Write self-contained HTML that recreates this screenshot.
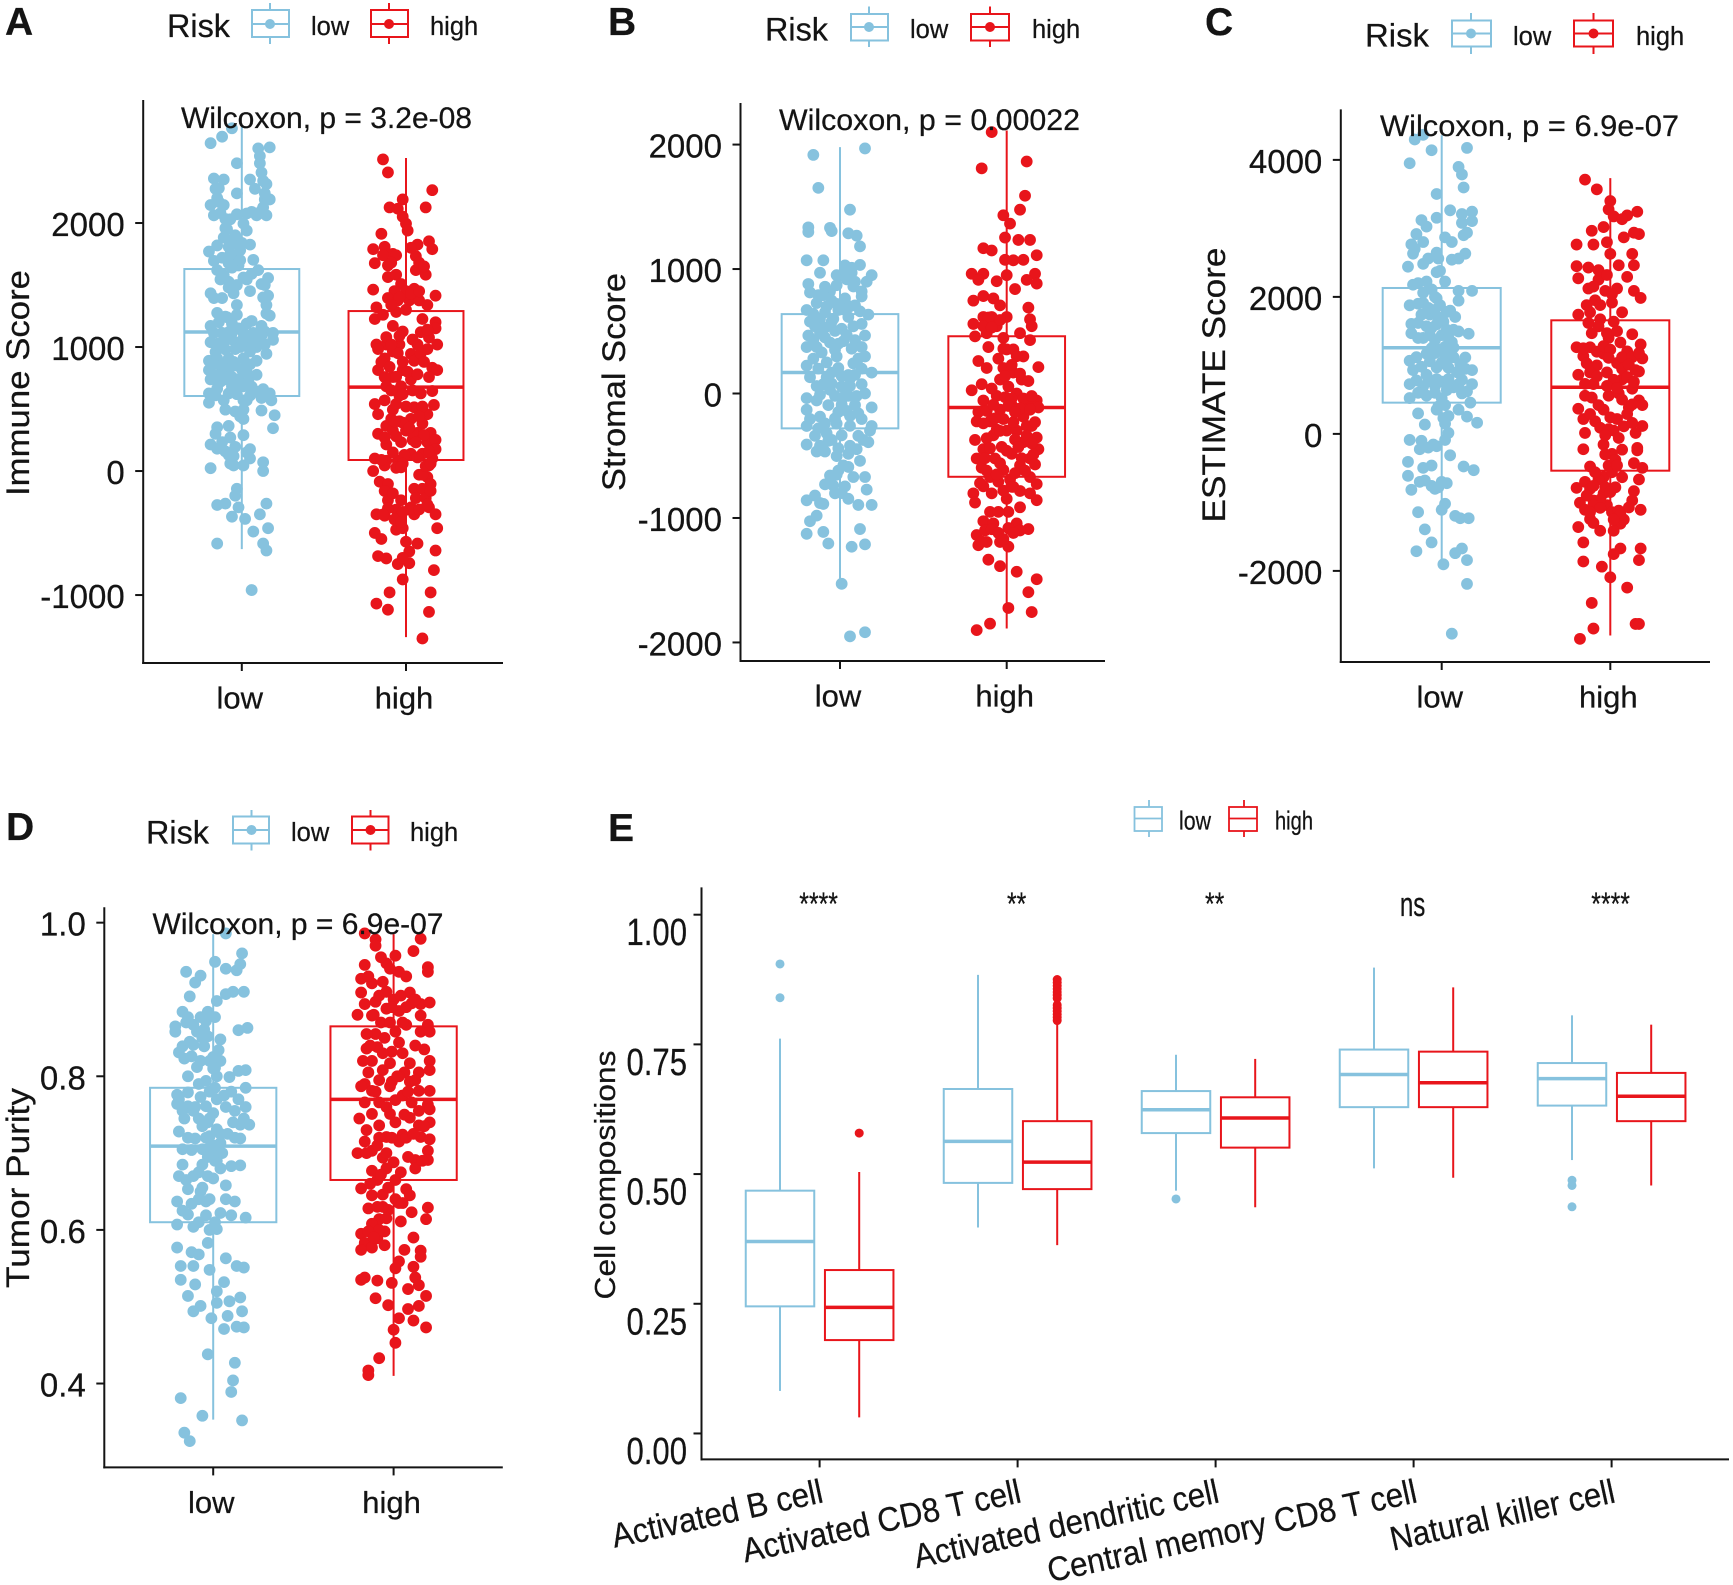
<!DOCTYPE html>
<html lang="en">
<head>
<meta charset="utf-8">
<title>Risk group boxplots</title>
<style>
html,body{margin:0;padding:0;background:#fff}
svg{display:block}
text{font-family:"Liberation Sans",sans-serif;fill:#141414;stroke:#141414;stroke-width:.25px}
</style>
</head>
<body>
<svg id="fig" xmlns="http://www.w3.org/2000/svg" width="1733" height="1585" viewBox="0 0 1733 1585">
<rect width="1733" height="1585" fill="#fff"/>

<!-- Panel letters -->
<text x="5" y="35" font-size="39" font-weight="bold">A</text>
<text x="608" y="35" font-size="39" font-weight="bold">B</text>
<text x="1205" y="35" font-size="39" font-weight="bold">C</text>
<text x="6" y="840" font-size="39" font-weight="bold">D</text>
<text x="608" y="841" font-size="39" font-weight="bold">E</text>

<!-- Legend A -->
<g>
<text x="167" y="37" font-size="32" textLength="63" lengthAdjust="spacingAndGlyphs">Risk</text>
<g fill="#fff" stroke="#86c2de" stroke-width="2"><line x1="270" y1="3" x2="270" y2="44"/><rect x="252" y="10" width="37" height="27"/><line x1="252" y1="24" x2="289" y2="24"/><circle cx="270" cy="24" r="5" fill="#86c2de" stroke="none"/></g>
<text x="311" y="35" font-size="25.5">low</text>
<g fill="#fff" stroke="#e8151b" stroke-width="2"><line x1="389" y1="3" x2="389" y2="44"/><rect x="371" y="10" width="37" height="27"/><line x1="371" y1="24" x2="408" y2="24"/><circle cx="389" cy="24" r="5" fill="#e8151b" stroke="none"/></g>
<text x="430" y="35" font-size="25.5">high</text>
</g>
<!-- Legend B -->
<g>
<text x="765" y="40.5" font-size="32" textLength="63" lengthAdjust="spacingAndGlyphs">Risk</text>
<g fill="#fff" stroke="#86c2de" stroke-width="2"><line x1="869" y1="6.5" x2="869" y2="47"/><rect x="851" y="14" width="37" height="26.5"/><line x1="851" y1="27" x2="888" y2="27"/><circle cx="869" cy="27" r="5" fill="#86c2de" stroke="none"/></g>
<text x="910" y="38" font-size="25.5">low</text>
<g fill="#fff" stroke="#e8151b" stroke-width="2"><line x1="990" y1="6.5" x2="990" y2="47"/><rect x="971" y="14" width="38" height="26.5"/><line x1="971" y1="27" x2="1009" y2="27"/><circle cx="990" cy="27" r="5" fill="#e8151b" stroke="none"/></g>
<text x="1032" y="38" font-size="25.5">high</text>
</g>
<!-- Legend C -->
<g>
<text x="1365" y="46.5" font-size="32" textLength="64" lengthAdjust="spacingAndGlyphs">Risk</text>
<g fill="#fff" stroke="#86c2de" stroke-width="2"><line x1="1471" y1="13" x2="1471" y2="54"/><rect x="1452" y="20.5" width="39" height="26"/><line x1="1452" y1="33.5" x2="1491" y2="33.5"/><circle cx="1471" cy="33.5" r="5" fill="#86c2de" stroke="none"/></g>
<text x="1513" y="45" font-size="25.5">low</text>
<g fill="#fff" stroke="#e8151b" stroke-width="2"><line x1="1593.5" y1="13" x2="1593.5" y2="54"/><rect x="1574" y="20.5" width="39" height="26"/><line x1="1574" y1="33.5" x2="1613" y2="33.5"/><circle cx="1593.5" cy="33.5" r="5" fill="#e8151b" stroke="none"/></g>
<text x="1636" y="45" font-size="25.5">high</text>
</g>
<!-- Legend D -->
<g>
<text x="146" y="843.5" font-size="32" textLength="63" lengthAdjust="spacingAndGlyphs">Risk</text>
<g fill="#fff" stroke="#86c2de" stroke-width="2"><line x1="251.5" y1="810" x2="251.5" y2="850.5"/><rect x="233" y="816.5" width="36" height="27"/><line x1="233" y1="830" x2="269" y2="830"/><circle cx="251.5" cy="830" r="5" fill="#86c2de" stroke="none"/></g>
<text x="291" y="841" font-size="25.5">low</text>
<g fill="#fff" stroke="#e8151b" stroke-width="2"><line x1="370.5" y1="810" x2="370.5" y2="850.5"/><rect x="352" y="816.5" width="36.5" height="27"/><line x1="352" y1="830" x2="388.5" y2="830"/><circle cx="370.5" cy="830" r="5" fill="#e8151b" stroke="none"/></g>
<text x="410" y="841" font-size="25.5">high</text>
</g>
<!-- Legend E -->
<g>
<g fill="#fff" stroke="#86c2de" stroke-width="1.8"><line x1="1149" y1="800" x2="1149" y2="837"/><rect x="1134.5" y="807" width="27.5" height="24"/><line x1="1134.5" y1="818.5" x2="1162" y2="818.5"/></g>
<text x="1179" y="829.5" font-size="26" textLength="32" lengthAdjust="spacingAndGlyphs">low</text>
<g fill="#fff" stroke="#e8151b" stroke-width="1.8"><line x1="1244" y1="800" x2="1244" y2="837"/><rect x="1229" y="807" width="28" height="24"/><line x1="1229" y1="818.5" x2="1257" y2="818.5"/></g>
<text x="1275" y="829.5" font-size="26" textLength="38" lengthAdjust="spacingAndGlyphs">high</text>
</g>

<!-- Axis titles -->
<text transform="translate(29,383) rotate(-90)" text-anchor="middle" font-size="32" textLength="226" lengthAdjust="spacingAndGlyphs">Immune Score</text>
<text transform="translate(625,382) rotate(-90)" text-anchor="middle" font-size="32" textLength="218" lengthAdjust="spacingAndGlyphs">Stromal Score</text>
<text transform="translate(1225,385) rotate(-90)" text-anchor="middle" font-size="32" textLength="275" lengthAdjust="spacingAndGlyphs">ESTIMATE Score</text>
<text transform="translate(29,1188) rotate(-90)" text-anchor="middle" font-size="32" textLength="200" lengthAdjust="spacingAndGlyphs">Tumor Purity</text>
<text transform="translate(615,1175) rotate(-90)" text-anchor="middle" font-size="29" textLength="249" lengthAdjust="spacingAndGlyphs">Cell compositions</text>

<g id="plots"></g>

<!-- Wilcoxon annotations -->
<text x="181" y="128" font-size="30" textLength="291" lengthAdjust="spacingAndGlyphs">Wilcoxon, p = 3.2e-08</text>
<text x="779" y="130" font-size="30" textLength="301" lengthAdjust="spacingAndGlyphs">Wilcoxon, p = 0.00022</text>
<text x="1380" y="136" font-size="30" textLength="299" lengthAdjust="spacingAndGlyphs">Wilcoxon, p = 6.9e-07</text>
<text x="152.5" y="934" font-size="30" textLength="291" lengthAdjust="spacingAndGlyphs">Wilcoxon, p = 6.9e-07</text>
</svg>

<script>
const riskGroups = ['low', 'high'];
const colors = { low: '#86c2de', high: '#e8151b' };

/* Each box: [whiskerLow, q1, median, q3, whiskerHigh]. Each point: [jitter in 1/100 category, value]. */
const immuneTicks = ['-1000', '0', '1000', '2000'];
const immuneDomain = [-1548, 2992];
const immuneBoxes = [[-630, 605, 1121, 1629, 2785], [-1339, 89, 677, 1290, 2524]];
const immuneLow = [[-6,2764],[-12,2696],[-19,2644],[10,2602],[17,2610],[-3,2482],[11,2482],[12,2407],[-17,2359],[-11,2351],[5,2351],[15,2314],[-16,2276],[8,2276],[-3,2239],[-15,2201],[14,2190],[17,2190],[-19,2145],[-11,2145],[13,2126],[-17,2062],[-10,2032],[-3,2070],[3,2077],[9,2062],[15,2062],[-10,1958],[1,1995],[3,1939],[-11,1883],[-4,1901],[-15,1819],[-8,1808],[-3,1826],[5,1826],[-20,1770],[-4,1733],[-17,1695],[-8,1676],[7,1703],[-15,1620],[-2,1658],[10,1620],[16,1556],[-13,1545],[-8,1526],[3,1545],[12,1508],[-19,1433],[-5,1433],[5,1451],[16,1414],[-17,1395],[-12,1395],[-3,1339],[15,1339],[17,1253],[-15,1275],[-10,1245],[-19,1170],[-6,1189],[3,1189],[12,1170],[-17,1114],[-12,1114],[-6,1114],[1,1114],[7,1114],[14,1125],[19,1114],[-19,1039],[-11,1039],[-4,1039],[4,1039],[19,1058],[-4,983],[5,964],[15,945],[-20,889],[-15,908],[-8,908],[1,908],[9,889],[-20,814],[-12,814],[-4,851],[3,795],[9,776],[-19,739],[-10,739],[-6,758],[-15,664],[-6,683],[1,683],[-20,626],[-8,626],[5,608],[17,626],[-20,551],[-11,570],[3,570],[12,589],[18,570],[-10,495],[1,495],[12,488],[20,450],[1,420],[-8,364],[-15,353],[19,345],[1,289],[-19,214],[-12,233],[-4,195],[5,176],[-10,158],[-5,120],[5,101],[13,71],[-5,45],[1,45],[-19,23],[13,0],[-3,-143],[-4,-199],[15,-263],[-10,-263],[-15,-274],[-2,-293],[-6,-368],[2,-386],[11,-349],[16,-461],[7,-488],[-15,-585],[13,-585],[15,-641],[6,-960],[-14,1030],[-8,1120],[-2,1150],[4,1090],[10,1060],[14,1020],[-16,960],[-10,980],[-1,1000],[9,1000],[-12,860],[-5,880],[5,860],[-16,770],[-8,820],[0,820],[-13,720],[-2,740],[6,680],[9,640],[-16,610],[-3,620],[1,570],[13,660],[-14,1200],[-9,1240],[-3,1260],[6,1210],[-8,1480],[-3,1500],[1,1560],[6,1590],[-11,1580],[-6,1640],[-1,1700],[-12,1720],[-7,1750],[-1,1780],[-7,1860],[0,1840],[-9,1950],[-13,2080],[-7,2030],[6,2090],[12,2100],[-14,2280],[-14,2170],[14,2240],[13,2340],[11,2540],[-4,480],[-1,440],[-15,180],[-8,130],[-7,60],[-16,300],[-7,270],[3,150],[14,1500],[15,1270],[13,1400],[-13,1000],[7,1040],[12,1090],[-9,1060],[1,1070],[-17,860],[-11,760],[4,720],[-5,660]];
const immuneHigh = [[-14,2513],[-11,2408],[16,2265],[-2,2190],[-10,2126],[-5,2115],[12,2126],[-2,2051],[0,1995],[1,1939],[-15,1913],[-13,1808],[-20,1789],[-8,1751],[7,1826],[14,1853],[16,1789],[-19,1676],[-11,1658],[-6,1740],[6,1733],[6,1620],[12,1583],[-11,1564],[-6,1583],[-3,1508],[-20,1463],[-7,1451],[0,1451],[5,1470],[18,1414],[-11,1395],[-5,1376],[2,1376],[8,1376],[13,1339],[-18,1320],[-6,1283],[-19,1226],[10,1226],[18,1200],[-8,1170],[-2,1125],[18,1151],[14,1076],[-18,1020],[-12,1020],[-4,1020],[7,1020],[19,1020],[-17,983],[-8,964],[3,945],[13,983],[-13,908],[5,889],[-17,814],[-2,814],[-8,758],[16,833],[19,814],[-13,758],[3,739],[14,758],[-12,683],[-3,683],[16,645],[9,626],[-19,540],[-13,570],[-4,608],[17,533],[-17,458],[-8,495],[5,514],[13,458],[-12,364],[-4,401],[3,420],[10,383],[-17,300],[-8,326],[0,326],[7,308],[15,308],[-12,214],[-3,233],[4,251],[13,233],[18,251],[18,176],[-19,101],[-12,83],[-5,83],[3,139],[10,139],[16,101],[-20,0],[-13,45],[-6,26],[14,45],[-16,-86],[-11,-105],[13,-49],[15,-105],[-13,-161],[5,-143],[10,-143],[-11,-236],[-3,-236],[6,-218],[12,-218],[-6,-311],[3,-293],[14,-293],[-18,-349],[-13,-360],[-4,-368],[5,-349],[18,-349],[-6,-473],[-2,-461],[19,-461],[-19,-499],[-15,-548],[7,-585],[2,-649],[18,-641],[-17,-686],[-12,-705],[2,-743],[-5,-750],[17,-799],[-2,-874],[-10,-979],[15,-979],[-18,-1069],[-11,-1118],[14,-1136],[10,-1350],[-4,1400],[3,1430],[8,1450],[-9,1340],[0,1300],[-14,1260],[9,1120],[13,1140],[-4,1090],[-12,1080],[4,1060],[-5,950],[9,950],[-2,880],[1,800],[-6,760],[7,780],[-9,650],[-2,620],[4,650],[-6,540],[0,520],[10,520],[-9,420],[8,440],[-2,390],[-13,270],[-6,280],[4,310],[11,290],[-8,150],[-1,130],[7,110],[-15,90],[-2,60],[-3,30],[8,-30],[-8,-180],[2,-310],[-2,-330],[8,-310],[-11,-300],[-7,-390],[-3,-410],[-14,-350],[-2,-700],[0,-570],[13,-270],[15,-160],[10,-30],[12,40],[14,160],[-14,1740],[-9,1680],[8,1680],[11,1650],[3,1800],[-15,880],[-10,840],[11,880],[-7,400],[2,350],[6,230],[15,60],[-9,1020]];

const stromalTicks = ['-2000', '-1000', '0', '1000', '2000'];
const stromalDomain = [-2149, 2334];
const stromalBoxes = [[-1534, -280, 169, 638, 1979], [-1888, -669, -112, 460, 2113]];
const stromalLow = [[-16,1917],[15,1969],[-13,1652],[6,1477],[-19,1335],[-19,1298],[-6,1331],[-5,1305],[5,1287],[10,1268],[12,1182],[-20,1070],[-10,1070],[3,1029],[12,1033],[-12,970],[-2,951],[7,970],[19,951],[-19,880],[4,917],[9,898],[16,898],[-18,812],[-9,858],[13,820],[-14,727],[-5,746],[3,764],[9,708],[-20,671],[-9,652],[-1,671],[17,634],[-18,578],[-5,578],[5,615],[13,559],[-19,466],[-12,485],[-3,503],[15,466],[-20,373],[-14,373],[-6,410],[9,429],[13,373],[-16,280],[-2,298],[11,280],[15,298],[-20,224],[-1,205],[8,242],[-18,131],[-5,168],[5,149],[19,168],[-10,75],[1,56],[13,75],[-20,-37],[-14,-56],[-3,-19],[5,-19],[15,0],[-20,-131],[-7,-93],[9,-93],[19,-112],[-18,-205],[-12,-186],[-1,-149],[13,-205],[-20,-261],[-13,-280],[-2,-242],[19,-261],[-5,-373],[1,-336],[14,-373],[18,-298],[-20,-410],[-14,-466],[-9,-466],[17,-391],[10,-447],[-2,-503],[5,-485],[2,-578],[12,-541],[-6,-659],[-2,-652],[8,-671],[15,-671],[3,-746],[16,-772],[-3,-802],[-15,-820],[-20,-858],[-10,-887],[5,-846],[11,-895],[19,-895],[-14,-981],[-18,-1026],[-20,-1127],[-10,-1112],[12,-1089],[-7,-1205],[15,-1212],[7,-1231],[1,-1529],[6,-1951],[15,-1918],[-4,600],[2,420],[-8,250],[6,120],[-6,30],[2,-30],[6,-180],[-3,350],[3,680],[-8,-320],[-16,640],[-12,600],[-8,700],[-2,720],[6,700],[12,660],[-15,540],[-9,530],[1,520],[8,540],[-16,430],[-9,450],[4,470],[7,360],[-11,330],[-1,400],[-13,200],[-8,130],[1,140],[9,150],[13,200],[-14,60],[-5,80],[6,60],[10,-20],[-12,-10],[1,-90],[4,-140],[-3,-200],[6,-260],[11,-160],[-9,-240],[-15,-340],[-7,-380],[6,-420],[11,-340],[-12,-420],[-1,-440],[-1,-620],[5,-590],[-4,-740],[-9,-730],[-12,-880],[1,-800],[-13,790],[-6,820],[8,860],[13,780],[-2,870],[-10,790],[3,990],[7,1010]];
const stromalHigh = [[-9,2100],[12,1864],[-15,1809],[11,1589],[8,1477],[-2,1432],[2,1365],[-1,1253],[7,1234],[14,1234],[-14,1167],[-9,1149],[18,1111],[-1,1074],[10,1074],[4,1070],[-21,962],[-14,962],[-17,913],[17,962],[0,951],[-6,902],[12,913],[18,883],[5,839],[-20,746],[-14,783],[-8,764],[-4,708],[13,690],[-14,615],[-9,615],[0,615],[14,596],[-20,559],[-6,541],[15,541],[-12,485],[8,485],[-19,459],[14,429],[-2,447],[-11,373],[0,354],[4,354],[-17,261],[-5,280],[10,298],[19,212],[-12,205],[-2,205],[4,168],[-4,112],[9,112],[-21,26],[-15,75],[1,56],[-6,-19],[6,0],[18,-56],[-14,-56],[12,-75],[-17,-149],[-4,-130],[3,-93],[19,-112],[-18,-224],[-10,-224],[-2,-205],[10,-186],[15,-261],[-19,-373],[-8,-336],[0,-298],[6,-298],[18,-354],[-14,-447],[-3,-429],[10,-391],[19,-447],[-18,-522],[-7,-522],[3,-485],[14,-522],[-15,-596],[-2,-615],[8,-578],[-10,-671],[2,-690],[14,-671],[-14,-746],[-5,-709],[18,-727],[-20,-802],[-9,-802],[8,-783],[14,-802],[-19,-876],[0,-846],[18,-857],[8,-914],[1,-951],[-10,-951],[-5,-951],[-14,-1026],[-8,-1044],[6,-1044],[1,-1081],[13,-1089],[-18,-1137],[-4,-1193],[-12,-1193],[-17,-1219],[1,-1230],[-11,-1335],[-4,-1387],[6,-1432],[18,-1492],[13,-1596],[1,-1723],[15,-1756],[-10,-1849],[-18,-1901],[-11,610],[-4,590],[-14,540],[-9,530],[-2,360],[6,300],[3,230],[-1,140],[8,160],[13,100],[-9,40],[-1,-30],[3,-40],[10,-40],[15,-20],[-12,-140],[-8,-90],[8,-120],[14,-130],[-14,-240],[-6,-290],[4,-230],[12,-260],[17,-230],[-12,-360],[5,-370],[12,-340],[15,-400],[-10,-440],[0,-460],[7,-430],[16,-490],[-13,-520],[-4,-560],[9,-520],[17,-570],[-12,-620],[-6,-650],[5,-640],[11,-620],[-16,-720],[-2,-780],[4,-750],[-13,-1100],[-9,-1090],[-5,-1120],[8,-1100],[4,-1120],[-15,-1190],[-2,-1170],[3,-750],[-4,-300],[-7,-200],[1,-100],[5,-150]];

const estimateTicks = ['-2000', '0', '2000', '4000'];
const estimateDomain = [-3330, 4737];
const estimateBoxes = [[-1923, 456, 1257, 2130, 4360], [-2943, -537, 680, 1658, 3733]];
const estimateLow = [[-16,4298],[-11,4366],[-6,4141],[15,4175],[-19,3951],[10,3897],[12,3787],[13,3597],[-3,3502],[5,3264],[18,3244],[-3,3155],[-12,3121],[12,3209],[12,3080],[-9,3026],[-15,2917],[18,3107],[15,2937],[2,2869],[-18,2767],[-11,2801],[6,2801],[-3,2645],[-17,2631],[14,2631],[6,2543],[-11,2482],[-20,2441],[-3,2360],[-17,2177],[-9,2224],[2,2224],[10,2088],[18,2088],[-19,1877],[-11,1911],[-3,1979],[10,1945],[-7,1741],[8,1707],[-18,1605],[-9,1571],[1,1639],[-18,1469],[-11,1401],[0,1442],[10,1496],[16,1462],[-5,1272],[2,1272],[6,1340],[-19,1067],[-9,1170],[2,1102],[14,1115],[-17,932],[-9,863],[4,966],[18,931],[-19,727],[-11,694],[0,762],[10,727],[18,727],[-19,523],[-9,558],[12,591],[2,421],[17,456],[-14,299],[-3,354],[10,354],[15,252],[21,163],[-10,136],[2,150],[4,14],[-19,-88],[2,-88],[-13,-224],[-5,-156],[5,-313],[-20,-408],[-11,-496],[-6,-462],[13,-476],[19,-530],[-20,-612],[-13,-700],[0,-700],[-18,-816],[-4,-802],[2,-1020],[0,-1108],[-14,-1143],[8,-1197],[16,-1231],[11,-1231],[-10,-1394],[-6,-1584],[-15,-1713],[8,-1741],[12,-1673],[15,-1843],[1,-1904],[15,-2190],[6,-2917],[-4,2000],[-2,1700],[-6,1550],[3,1000],[-3,800],[-6,1250],[5,1800],[-14,1900],[-8,1840],[-1,1880],[-12,1740],[-4,1810],[3,1780],[-14,1620],[-3,1600],[3,1520],[7,1520],[-14,1400],[-7,1440],[-4,1370],[4,1400],[-4,1180],[-1,1230],[4,1200],[7,1260],[-15,1120],[-7,1060],[0,1040],[7,1120],[11,1020],[14,950],[-12,980],[-3,970],[9,900],[-15,780],[-8,770],[-4,700],[4,800],[7,680],[12,790],[-14,600],[-4,600],[3,640],[15,620],[0,520],[-2,400],[1,230],[4,260],[-12,-100],[-8,-200],[-3,-180],[-10,-680],[-6,-760],[-2,-780],[3,-720],[-2,2560],[10,2560],[13,2900],[-16,2700],[-8,2560],[-1,2380],[-14,2200],[-6,2110],[-11,2060]];
const estimateHigh = [[-15,3712],[-8,3570],[0,3400],[-1,3277],[2,3175],[16,3243],[10,3189],[-11,2965],[-4,3019],[17,2917],[7,3134],[-20,2764],[-10,2764],[-2,2798],[8,2869],[14,2937],[0,2628],[13,2628],[-20,2448],[-13,2428],[5,2462],[14,2462],[-19,2271],[-7,2251],[10,2292],[-13,2122],[-3,2088],[4,2122],[14,2088],[18,1985],[-9,1951],[1,1917],[-19,1741],[-12,1775],[7,1775],[-6,1673],[2,1639],[-11,1469],[-1,1401],[13,1455],[-20,1265],[-12,1265],[6,1334],[18,1306],[-16,1136],[-4,1170],[10,1204],[19,1102],[-8,999],[4,1034],[-19,863],[-12,897],[-2,897],[17,911],[7,795],[-10,727],[13,659],[-15,557],[-1,557],[5,591],[17,489],[-19,367],[-4,354],[11,387],[19,421],[-16,217],[-9,184],[4,217],[19,115],[-15,14],[2,48],[15,14],[-16,-224],[-4,-156],[16,-204],[1,-292],[-12,-476],[-1,-462],[14,-428],[19,-496],[-4,-632],[7,-632],[-15,-700],[-7,-666],[17,-666],[-20,-788],[-12,-802],[14,-836],[-4,-870],[-18,-1006],[-10,-972],[13,-972],[-2,-1040],[-15,-1108],[11,-1074],[18,-1108],[1,-1142],[-12,-1244],[4,-1244],[-19,-1360],[-6,-1414],[6,-1312],[2,-1414],[-16,-1584],[18,-1673],[6,-1673],[2,-1755],[-16,-1863],[17,-1843],[-5,-1938],[0,-2094],[10,-2244],[-11,-2468],[15,-2774],[17,-2774],[-10,-2842],[-18,-2992],[-14,1880],[-6,1880],[1,2040],[-10,2150],[-2,1470],[4,1500],[-7,1570],[-13,1620],[-16,1250],[-8,1200],[-4,1280],[0,1230],[7,1120],[13,1120],[17,1180],[-14,1030],[-1,1110],[7,950],[11,1010],[15,930],[-8,840],[2,790],[10,830],[-15,730],[-2,700],[4,670],[14,760],[-11,530],[-7,420],[7,500],[13,430],[-12,290],[0,240],[10,290],[-6,90],[-1,70],[8,110],[13,160],[-3,-20],[5,-60],[-3,-300],[3,-380],[7,-230],[-9,-560],[1,-560],[4,-460],[-10,-760],[-3,-780],[3,-780],[-14,-900],[-6,-960],[0,-850],[-10,-1040],[-6,-1080],[5,-1120],[8,-1250],[6,-1180],[2,-1250],[-10,-1300],[-12,-1140],[16,-240],[-7,2390],[-2,2320]];

const purityTicks = ['0.4', '0.6', '0.8', '1.0'];
const purityDomain = [0.2908, 1.02];
const purityBoxes = [[0.353, 0.61, 0.709, 0.785, 0.985], [0.41, 0.665, 0.77, 0.865, 0.985]];
const purityLow = [[7,0.986],[16,0.96],[1,0.949],[15,0.946],[7,0.94],[13,0.938],[-15,0.936],[-7,0.931],[-10,0.922],[17,0.91],[11,0.91],[7,0.907],[-13,0.904],[2,0.898],[-17,0.884],[-3,0.884],[1,0.877],[-21,0.865],[-14,0.877],[-7,0.877],[-4,0.872],[14,0.86],[19,0.863],[-21,0.858],[-11,0.867],[-5,0.861],[-3,0.852],[4,0.848],[-11,0.841],[-17,0.839],[-5,0.839],[-19,0.831],[3,0.834],[4,0.82],[-9,0.812],[1,0.811],[18,0.808],[14,0.807],[-14,0.8],[9,0.799],[-4,0.794],[1,0.785],[18,0.785],[-20,0.776],[-14,0.779],[-7,0.773],[14,0.77],[-20,0.764],[-14,0.761],[-4,0.761],[7,0.76],[18,0.76],[-17,0.755],[0,0.752],[12,0.755],[-3,0.74],[2,0.731],[15,0.737],[20,0.737],[-19,0.728],[-10,0.719],[-2,0.722],[4,0.725],[15,0.719],[-12,0.704],[-2,0.707],[4,0.713],[-6,0.685],[-17,0.685],[1,0.695],[15,0.684],[10,0.683],[-19,0.67],[-11,0.67],[0,0.667],[-14,0.653],[-6,0.655],[7,0.658],[-20,0.637],[-12,0.634],[-4,0.637],[12,0.637],[4,0.622],[-4,0.619],[10,0.619],[18,0.616],[-20,0.607],[-11,0.604],[2,0.601],[-3,0.583],[-20,0.577],[-12,0.571],[-8,0.568],[7,0.563],[13,0.553],[17,0.551],[-18,0.553],[-11,0.553],[-2,0.548],[-18,0.535],[6,0.532],[-10,0.529],[2,0.52],[-14,0.514],[15,0.512],[2,0.505],[9,0.507],[-7,0.501],[-11,0.494],[16,0.494],[8,0.488],[-1,0.485],[13,0.474],[6,0.471],[17,0.473],[-3,0.438],[12,0.427],[11,0.404],[10,0.389],[-18,0.381],[-6,0.358],[16,0.352],[-16,0.336],[-13,0.325],[-4,0.72],[3,0.7],[-2,0.745],[1,0.69],[-7,0.65],[-2,0.64],[-15,0.87],[-9,0.858],[-13,0.845],[-2,0.82],[-16,0.823],[-12,0.826],[-7,0.82],[-19,0.77],[-16,0.745],[-11,0.755],[-8,0.745],[-6,0.735],[-6,0.705],[-3,0.695],[0,0.71],[2,0.69],[5,0.7],[8,0.725],[12,0.72],[11,0.74],[17,0.745],[-14,0.72],[-17,0.705],[-8,0.675],[-3,0.67],[4,0.68],[-15,0.665],[-8,0.64],[-17,0.625],[-14,0.62],[-8,0.61],[-2,0.6],[1,0.61],[7,0.64],[-10,0.76],[-8,0.79],[6,0.775],[10,0.78],[-2,0.78],[2,0.77],[0,0.825],[0,0.81],[-6,0.85],[2,0.8]];
const purityHigh = [[-16,0.986],[-10,0.978],[15,0.979],[-10,0.97],[1,0.957],[11,0.963],[-16,0.945],[-4,0.947],[19,0.942],[19,0.936],[3,0.936],[-18,0.927],[-12,0.921],[-6,0.923],[7,0.93],[-18,0.909],[9,0.909],[0,0.9],[-16,0.894],[-10,0.897],[15,0.894],[20,0.896],[-4,0.888],[-20,0.88],[-12,0.879],[3,0.885],[15,0.879],[-7,0.87],[-2,0.87],[7,0.867],[19,0.867],[-10,0.855],[1,0.858],[15,0.858],[20,0.858],[3,0.844],[-15,0.836],[-9,0.838],[17,0.835],[-1,0.832],[-12,0.82],[-2,0.817],[9,0.817],[20,0.82],[-14,0.805],[-6,0.808],[6,0.805],[14,0.805],[20,0.808],[-16,0.79],[-1,0.793],[9,0.793],[-18,0.787],[-2,0.787],[14,0.781],[20,0.781],[-12,0.781],[-16,0.766],[-8,0.766],[1,0.769],[10,0.766],[19,0.763],[-19,0.745],[-12,0.751],[-2,0.751],[9,0.746],[20,0.757],[-8,0.736],[1,0.74],[14,0.736],[20,0.74],[-16,0.715],[-4,0.721],[5,0.724],[15,0.721],[20,0.718],[-20,0.7],[-12,0.703],[3,0.715],[19,0.703],[-6,0.694],[0,0.688],[12,0.691],[12,0.68],[19,0.691],[-12,0.677],[-4,0.68],[-9,0.665],[1,0.665],[7,0.653],[-18,0.654],[-12,0.645],[-6,0.646],[9,0.645],[3,0.635],[19,0.629],[10,0.623],[-3,0.626],[-8,0.614],[18,0.614],[4,0.611],[-12,0.608],[-18,0.595],[-5,0.598],[-16,0.583],[-9,0.589],[11,0.59],[-18,0.574],[-12,0.577],[6,0.574],[15,0.573],[15,0.565],[3,0.559],[1,0.55],[11,0.552],[12,0.538],[-18,0.535],[-16,0.538],[-9,0.534],[-1,0.531],[14,0.528],[8,0.523],[18,0.514],[-10,0.511],[-3,0.502],[14,0.501],[8,0.497],[3,0.485],[11,0.482],[0,0.47],[18,0.473],[1,0.453],[-8,0.433],[-14,0.417],[-14,0.411],[-14,0.93],[-8,0.905],[-4,0.91],[4,0.905],[10,0.895],[-11,0.88],[-1,0.89],[5,0.87],[-15,0.855],[-5,0.85],[-13,0.84],[-6,0.83],[5,0.83],[12,0.84],[-17,0.82],[3,0.8],[12,0.795],[-8,0.795],[-10,0.78],[5,0.775],[8,0.78],[-4,0.76],[6,0.75],[14,0.755],[-15,0.73],[-8,0.72],[-1,0.72],[7,0.72],[11,0.725],[17,0.735],[-15,0.7],[-9,0.71],[-4,0.7],[8,0.695],[16,0.69],[-7,0.672],[4,0.675],[-13,0.66],[-3,0.655],[-14,0.628],[-8,0.6],[-6,0.63],[-9,0.63],[1,0.64],[5,0.635],[-14,0.598],[-4,0.615],[-11,0.59],[-5,0.58],[2,0.8],[7,0.89],[12,0.9],[-2,0.94],[-7,0.955]];

const cellCategories = ['Activated B cell', 'Activated CD8 T cell', 'Activated dendritic cell', 'Central memory CD8 T cell', 'Natural killer cell'];
const cellTicks = ['0.00', '0.25', '0.50', '0.75', '1.00'];
const cellDomain = [-0.05, 1.0526];
const significance = ['****', '**', '**', 'ns', '****'];
const cellLowBoxes = [[0.082,0.245,0.370,0.468,0.761],[0.397,0.483,0.563,0.664,0.884],[0.468,0.579,0.624,0.66,0.73],[0.511,0.629,0.692,0.74,0.898],[0.527,0.632,0.684,0.714,0.806]];
const cellHighBoxes = [[0.031,0.18,0.243,0.315,0.504],[0.363,0.471,0.523,0.602,0.796],[0.436,0.551,0.608,0.648,0.722],[0.493,0.629,0.676,0.736,0.86],[0.478,0.602,0.65,0.695,0.788]];
const cellLowOutliers = [[0.905,0.84],[],[0.452],[],[0.488,0.478,0.437]];
const cellHighOutliers = [[0.579],[0.875,0.869,0.863,0.857,0.851,0.845,0.839,0.826,0.82,0.814,0.808,0.802,0.796],[],[],[]];

const NS = 'http://www.w3.org/2000/svg';
const plots = document.getElementById('plots');
const INK = '#141414';

function mk(tag, attrs, parent) {
  const el = document.createElementNS(NS, tag);
  for (const k in attrs) el.setAttribute(k, attrs[k]);
  parent.appendChild(el);
  return el;
}
function linearScale(domain, range) {
  return v => range[0] + (v - domain[0]) * (range[1] - range[0]) / (domain[1] - domain[0]);
}

function drawAxes(g, frame, yScale, yTicks, tickXCenters, tickLabels, opts) {
  const yAxis = mk('line', { x1: frame.left, x2: frame.left, y1: frame.top, y2: frame.bottom + 1, stroke: INK, 'stroke-width': 2 }, g);
  
  
  const xAxis = mk('line', { x1: frame.left - 1, x2: frame.right, y1: frame.bottom, y2: frame.bottom, stroke: INK, 'stroke-width': 2 }, g);
  
  
  yTicks.forEach(label => {
    const y = yScale(Number(label));
    const tick = mk('line', { x1: frame.left - 8, x2: frame.left, y1: y, y2: y, stroke: INK, 'stroke-width': 2 }, g);
    
    
    const attrs = { x: frame.left - opts.yLabelGap, y: y + opts.yLabelDrop, 'text-anchor': 'end', 'font-size': opts.yFont };
    if (opts.yLabelWidth) { attrs.textLength = opts.yLabelWidth; attrs.lengthAdjust = 'spacingAndGlyphs'; }
    const t = mk('text', attrs, g);
    t.textContent = label;
    
    
  });
  tickXCenters.forEach((x, i) => {
    const tick = mk('line', { x1: x, x2: x, y1: frame.bottom, y2: frame.bottom + 8, stroke: INK, 'stroke-width': 2 }, g);
    
    
    if (tickLabels) {
      const t = mk('text', { x: x - 2, y: frame.bottom + 45.5, 'text-anchor': 'middle', 'font-size': 31 }, g);
      t.textContent = tickLabels[i];
      
      
    }
  });
}

function drawBox(g, cx, halfW, stats, color, yScale, name, medW) {
  const [lo, q1, med, q3, hi] = stats;
  const sw = 2;
  const upper = mk('line', { x1: cx, x2: cx, y1: yScale(q3), y2: yScale(hi), stroke: color, 'stroke-width': sw }, g);
  
  
  const lower = mk('line', { x1: cx, x2: cx, y1: yScale(q1), y2: yScale(lo), stroke: color, 'stroke-width': sw }, g);
  
  
  const box = mk('rect', { x: cx - halfW, y: yScale(q3), width: 2 * halfW, height: yScale(q1) - yScale(q3), fill: 'none', stroke: color, 'stroke-width': sw }, g);
  
  
  const m = mk('line', { x1: cx - halfW, x2: cx + halfW, y1: yScale(med), y2: yScale(med), stroke: color, 'stroke-width': medW }, g);
  
  
}

function drawScorePanel(id, frame, domain, ticks, boxes, lowPts, highPts, catX0, catStep) {
  const g = mk('g', {}, plots);
  
  
  const yScale = linearScale(domain, [frame.bottom, frame.top]);
  const xScale = i => catX0 + i * catStep;
  [lowPts, highPts].forEach((pts, i) => {
    const group = riskGroups[i];
    const color = colors[group];
    drawBox(g, xScale(i), 0.35 * catStep, boxes[i], color, yScale, id + '-' + group, 3.5);
    pts.forEach(p => {
      const c = mk('circle', { cx: xScale(i) + p[0] / 100 * catStep, cy: yScale(p[1]), r: 5.9, fill: color }, g);
      
      
    });
  });
  drawAxes(g, frame, yScale, ticks, [xScale(0), xScale(1)], riskGroups, { yLabelGap: 18.5, yLabelDrop: 13, yFont: 33 });
}

drawScorePanel('immune', { left: 143.2, right: 503, top: 100, bottom: 663 }, immuneDomain, immuneTicks, immuneBoxes, immuneLow, immuneHigh, 241.8, 164.2);
drawScorePanel('stromal', { left: 740.5, right: 1105, top: 103, bottom: 661 }, stromalDomain, stromalTicks, stromalBoxes, stromalLow, stromalHigh, 840, 166.7);
drawScorePanel('estimate', { left: 1340.8, right: 1710, top: 109.4, bottom: 662 }, estimateDomain, estimateTicks, estimateBoxes, estimateLow, estimateHigh, 1441.7, 168.6);
drawScorePanel('purity', { left: 104.3, right: 502.8, top: 907.3, bottom: 1467.4 }, purityDomain, purityTicks, purityBoxes, purityLow, purityHigh, 213.2, 180.4);

/* Panel E */
(function () {
  const g = mk('g', {}, plots);
  
  
  const frame = { left: 701.5, right: 1729, top: 887.4, bottom: 1459.4 };
  const yScale = linearScale(cellDomain, [frame.bottom, frame.top]);
  const step = 198;
  const xScale = i => 819.6 + i * step;
  const centers = cellCategories.map((_, i) => xScale(i));
  const series = [['low', cellLowBoxes, cellLowOutliers, -0.2], ['high', cellHighBoxes, cellHighOutliers, 0.2]];
  cellCategories.forEach((cat, i) => {
    series.forEach(s => {
      const cx = xScale(i) + s[3] * step;
      drawBox(g, cx, 0.173 * step, s[1][i], colors[s[0]], yScale, 'cell-' + s[0] + '-' + i, 3.5);
      s[2][i].forEach(v => {
        const c = mk('circle', { cx: cx, cy: yScale(v), r: 4.5, fill: colors[s[0]] }, g);
        
        
      });
    });
    const sig = significance[i];
    const isNs = sig === 'ns';
    const st = mk('text', { x: xScale(i) - 1, y: isNs ? 916 : 915, 'text-anchor': 'middle', 'font-size': isNs ? 34 : 32, textLength: isNs ? 25.5 : sig.length * 9.65, lengthAdjust: 'spacingAndGlyphs' }, g);
    st.textContent = sig;
    
    
    const widths = [215, 284, 311, 377, 229];
    const lab = mk('text', { transform: 'translate(' + (xScale(i) + 5) + ',1502) rotate(-12.3)', 'text-anchor': 'end', 'font-size': 34, textLength: widths[i], lengthAdjust: 'spacingAndGlyphs' }, g);
    lab.textContent = cat;
    
    
  });
  drawAxes(g, frame, yScale, cellTicks, centers, null, { yLabelGap: 14.5, yLabelDrop: 30.5, yFont: 38, yLabelWidth: 60.5 });
})();
</script>
</body>
</html>
